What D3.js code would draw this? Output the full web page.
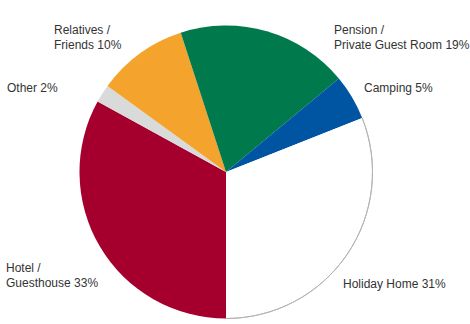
<!DOCTYPE html>
<html>
<head>
<meta charset="utf-8">
<script src="https://cdn.jsdelivr.net/npm/d3@7/dist/d3.min.js"></script>
<style>
  html, body { margin: 0; padding: 0; background: #fff; }
  svg { display: block; }
  text { font-family: "Liberation Sans", Arial, Helvetica, sans-serif; font-size: 12px; fill: #333; }
</style>
</head>
<body>
<svg id="chart" width="470" height="324"></svg>
<script>
// Accommodation types, in drawing order (clockwise from the bottom)
const categories = ["Hotel / Guesthouse", "Other", "Relatives / Friends", "Pension / Private Guest Room", "Camping", "Holiday Home"];
const shares = [33, 2, 10, 19, 5, 31];
const colors = ["#a5002d", "#d9dbda", "#f4a32d", "#007a4c", "#0055a2", "#ffffff"];
// Label lines per category
const labelLines = [
  ["Hotel /", "Guesthouse 33%"],
  ["Other 2%"],
  ["Relatives /", "Friends 10%"],
  ["Pension /", "Private Guest Room 19%"],
  ["Camping 5%"],
  ["Holiday Home 31%"]
];
const labelPos = [[6, 272], [7, 92], [54, 34], [334, 34], [364, 92], [343, 288]];

const svg = d3.select("#chart");
const cx = 226, cy = 172, r = 146.5;

const pie = d3.pie().sort(null).value(d => d.v).startAngle(Math.PI).endAngle(3 * Math.PI);
const data = categories.map((c, i) => ({ c, v: shares[i], i }));
const arcs = pie(data);
const arc = d3.arc().innerRadius(0).outerRadius(r);

const g = svg.append("g").attr("transform", `translate(${cx},${cy})`);
g.selectAll("path.slice")
  .data(arcs)
  .join("path")
  .attr("class", "slice")
  .attr("d", arc)
  .attr("fill", d => colors[d.data.i]);

// Thin grey rim around the white slice
const white = arcs[5];
g.append("path")
  .attr("d", d3.arc().innerRadius(r).outerRadius(r)(white))
  .attr("fill", "none")
  .attr("stroke", "#b4b4b4")
  .attr("stroke-width", 1);

// Labels
const lineH = 14.5;
labelLines.forEach((lines, i) => {
  const t = svg.append("text").attr("x", labelPos[i][0]).attr("y", labelPos[i][1]);
  lines.forEach((ln, k) => {
    t.append("tspan").attr("x", labelPos[i][0]).attr("dy", k === 0 ? 0 : lineH).text(ln);
  });
});
</script>
</body>
</html>
